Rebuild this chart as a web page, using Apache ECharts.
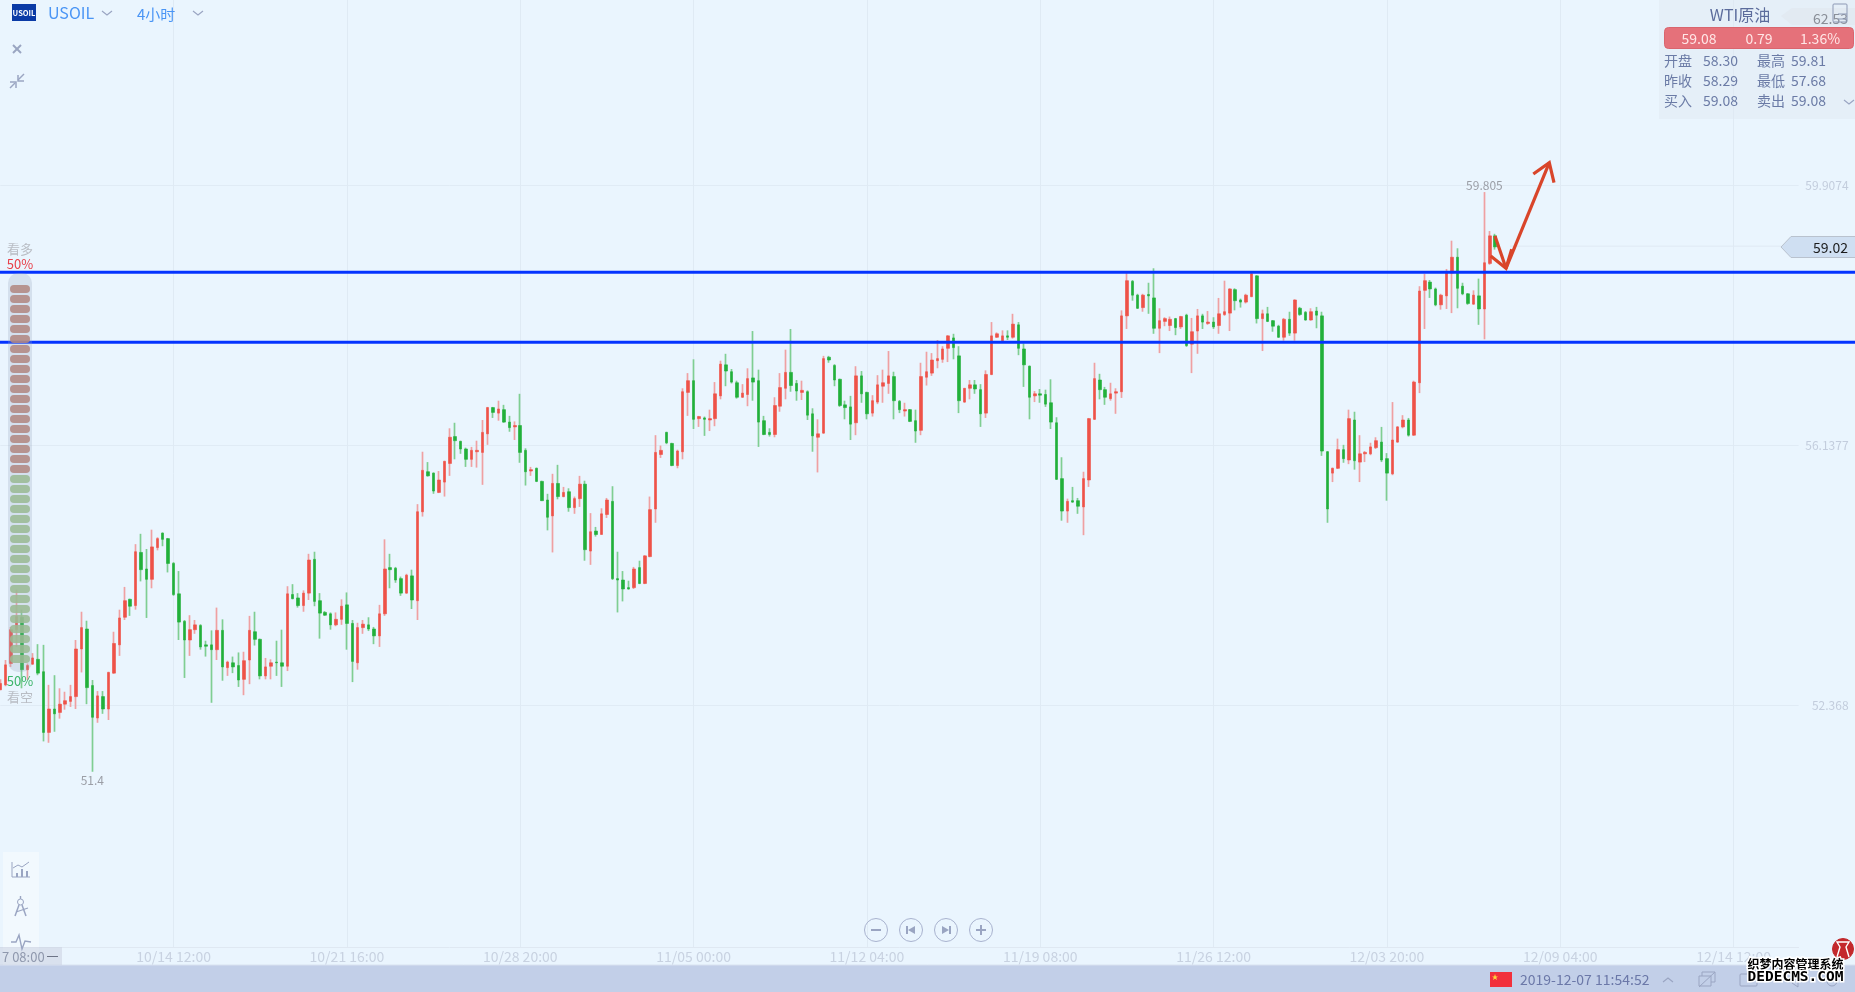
<!DOCTYPE html>
<html>
<head>
<meta charset="utf-8">
<title>USOIL 4小时</title>
<script src="https://cdn.jsdelivr.net/npm/echarts@6/dist/echarts.min.js"></script>
<style>
html, body { margin: 0; padding: 0; background: #eaf5fe; overflow: hidden; }
#main { width: 1855px; height: 992px; }
</style>
</head>
<body>
<div id="main"></div>
<script>
// [open, close, low, high], 4 hour bars
const candles = [
[52.59,52.68,52.58,52.74],[52.66,52.95,52.64,53.02],[52.97,53.46,52.92,53.50],[53.46,53.65,53.21,54.04],[53.64,52.88,52.61,53.75],
[52.88,52.94,52.73,52.97],[52.96,53.05,52.95,53.12],[53.03,52.83,52.80,53.25],[52.85,51.97,51.84,53.24],[51.97,52.31,51.82,52.66],
[52.31,52.24,51.98,52.80],[52.26,52.38,52.17,52.61],[52.38,52.43,52.30,52.56],[52.42,52.49,52.34,52.66],[52.49,53.18,52.31,53.31],
[53.18,53.49,52.84,53.72],[53.47,52.62,52.38,53.59],[52.65,52.19,51.40,52.73],[52.18,52.50,52.11,52.57],[52.49,52.31,52.24,52.57],
[52.31,52.84,52.15,52.85],[52.83,53.26,52.82,53.43],[53.24,53.63,53.08,53.75],[53.64,53.88,53.60,54.08],[53.90,53.80,53.66,53.91],
[53.81,54.59,53.75,54.70],[54.58,54.33,54.16,54.85],[54.34,54.19,53.63,54.63],[54.19,54.66,54.06,54.91],[54.65,54.78,54.61,54.80],
[54.86,54.77,54.67,54.87],[54.78,54.42,54.29,54.79],[54.42,53.97,53.95,54.44],[53.98,53.57,53.31,54.31],[53.58,53.31,52.76,53.60],
[53.31,53.46,53.08,53.67],[53.46,53.53,53.40,53.60],[53.52,53.21,53.17,53.54],[53.24,53.22,53.07,53.30],[53.24,53.17,52.40,53.45],
[53.17,53.45,53.02,53.78],[53.45,52.92,52.72,53.61],[52.91,52.99,52.79,53.01],[52.98,52.92,52.83,53.07],[52.94,52.73,52.63,53.13],
[52.74,53.01,52.51,53.14],[53.02,53.45,52.67,53.66],[53.43,53.32,53.23,53.72],[53.32,52.79,52.74,53.33],[52.79,52.92,52.74,53.05],
[52.93,52.98,52.74,53.03],[52.99,52.98,52.79,53.30],[52.98,52.93,52.63,53.46],[52.93,53.98,52.86,54.09],[53.97,53.91,53.90,54.12],
[53.92,53.81,53.78,53.99],[53.81,53.99,53.72,54.03],[53.99,54.47,53.89,54.56],[54.48,53.87,53.80,54.59],[53.88,53.70,53.33,53.99],
[53.71,53.67,53.66,53.73],[53.69,53.53,53.46,53.71],[53.53,53.61,53.51,53.71],[53.61,53.80,53.53,53.90],[53.82,53.55,53.17,54.00],
[53.55,53.00,52.70,53.60],[52.98,53.49,52.88,53.56],[53.49,53.54,53.40,53.60],[53.53,53.47,53.44,53.64],[53.47,53.37,53.25,53.50],
[53.37,53.69,53.21,53.82],[53.69,54.34,53.66,54.77],[54.36,54.33,54.06,54.56],[54.35,54.18,54.14,54.37],[54.20,53.99,53.95,54.23],
[53.99,54.25,53.98,54.27],[54.24,53.89,53.76,54.33],[53.88,55.17,53.60,55.28],[55.17,55.77,55.10,56.04],[55.75,55.69,55.68,55.89],
[55.73,55.47,55.43,55.74],[55.45,55.63,55.44,55.76],[55.60,55.90,55.39,55.91],[55.87,56.25,55.69,56.38],[56.26,56.20,55.93,56.46],
[56.19,56.08,56.01,56.20],[56.08,55.93,55.82,56.10],[55.93,56.06,55.82,56.11],[56.04,56.06,55.81,56.20],[56.03,56.32,55.56,56.50],
[56.30,56.68,56.14,56.69],[56.68,56.61,56.53,56.69],[56.60,56.66,56.49,56.78],[56.65,56.47,56.46,56.72],[56.47,56.39,56.33,56.56],
[56.40,56.42,56.21,56.48],[56.42,56.03,55.88,56.88],[56.06,55.75,55.55,56.09],[55.76,55.78,55.69,55.82],[55.80,55.61,55.60,55.81],
[55.61,55.33,55.33,55.62],[55.34,55.09,54.90,55.43],[55.11,55.58,54.58,55.72],[55.58,55.39,55.35,55.85],[55.39,55.45,55.38,55.53],
[55.46,55.23,55.17,55.51],[55.23,55.36,55.14,55.39],[55.36,55.57,55.24,55.69],[55.57,54.62,54.46,55.62],[54.60,54.88,54.40,55.15],
[54.89,54.84,54.81,54.95],[54.84,55.14,54.84,55.22],[55.13,55.34,55.08,55.37],[55.32,54.20,54.18,55.54],[54.20,54.18,53.71,54.59],
[54.18,54.05,53.87,54.31],[54.07,54.05,54.04,54.17],[54.07,54.34,54.05,54.37],[54.36,54.13,54.12,54.46],[54.13,54.53,54.12,54.54],
[54.52,55.20,54.51,55.39],[55.21,56.03,55.01,56.28],[56.00,56.06,55.95,56.13],[56.32,56.17,56.15,56.33],[56.16,55.84,55.83,56.17],
[55.84,56.05,55.80,56.07],[56.04,56.91,55.93,56.96],[56.90,57.07,56.56,57.18],[57.07,56.51,56.37,57.38],[56.52,56.55,56.40,56.56],
[56.53,56.51,56.27,56.55],[56.50,56.52,56.34,56.65],[56.52,56.88,56.41,57.05],[56.85,57.31,56.80,57.36],[57.30,57.21,56.99,57.46],
[57.20,57.05,57.03,57.24],[57.04,56.83,56.81,57.07],[56.83,56.89,56.82,57.02],[56.87,57.10,56.70,57.25],[57.11,57.05,56.78,57.79],
[57.07,56.47,56.11,57.23],[56.49,56.29,56.28,56.56],[56.32,56.29,56.26,56.38],[56.29,56.71,56.25,56.83],[56.70,56.97,56.62,57.18],
[56.96,57.19,56.80,57.52],[57.19,57.00,56.91,57.82],[57.03,56.92,56.78,57.08],[56.90,56.93,56.79,57.07],[56.91,56.57,56.50,56.93],
[56.59,56.27,56.04,56.67],[56.25,56.30,55.74,56.51],[56.31,57.39,56.30,57.43],[57.41,57.37,57.33,57.43],[57.29,57.08,56.99,57.31],
[57.09,56.71,56.69,57.10],[56.72,56.68,56.51,56.78],[56.69,56.44,56.21,56.85],[56.46,57.14,56.28,57.28],[57.14,56.88,56.75,57.21],
[56.90,56.59,56.51,56.91],[56.60,56.78,56.55,56.86],[56.76,57.01,56.73,57.15],[56.99,57.04,56.75,57.23],[57.03,57.14,56.88,57.50],
[57.13,56.78,56.51,57.20],[56.77,56.65,56.60,56.79],[56.63,56.65,56.55,56.75],[56.65,56.48,56.47,56.66],[56.49,56.34,56.17,56.65],
[56.35,57.13,56.28,57.33],[57.12,57.20,57.00,57.49],[57.18,57.37,57.14,57.47],[57.36,57.39,57.25,57.66],[57.38,57.53,57.33,57.57],
[57.54,57.72,57.34,57.73],[57.69,57.55,57.38,57.75],[57.43,56.78,56.60,57.57],[56.76,56.96,56.75,56.96],[56.96,57.01,56.80,57.08],
[57.01,56.95,56.88,57.08],[56.94,56.59,56.40,57.02],[56.60,57.16,56.53,57.22],[57.16,57.72,57.15,57.92],[57.70,57.75,57.69,57.77],
[57.65,57.72,57.64,57.80],[57.72,57.70,57.66,57.80],[57.70,57.89,57.68,58.04],[57.88,57.54,57.44,57.92],[57.53,57.30,56.98,57.61],
[57.28,56.83,56.51,57.29],[56.85,56.88,56.76,56.92],[56.88,56.86,56.75,56.95],[56.87,56.73,56.69,56.94],[56.75,56.47,56.37,57.09],
[56.46,55.64,55.63,56.54],[55.65,55.18,55.04,55.96],[55.18,55.32,55.01,55.36],[55.33,55.31,55.30,55.53],[55.33,55.25,55.14,55.37],
[55.24,55.65,54.83,55.75],[55.63,56.52,55.53,56.53],[56.51,57.10,56.50,57.33],[57.08,56.94,56.80,57.17],[56.94,56.83,56.72,56.98],
[56.81,56.88,56.78,57.04],[56.89,56.91,56.59,56.96],[56.91,58.01,56.82,58.09],[58.01,58.52,57.82,58.63],[58.51,58.31,58.23,58.53],
[58.31,58.12,58.11,58.33],[58.13,58.31,58.07,58.33],[58.32,58.30,58.04,58.49],[58.27,57.83,57.75,58.70],[57.83,57.94,57.47,58.12],
[57.93,57.97,57.86,57.99],[57.87,57.96,57.79,58.00],[57.97,57.84,57.73,57.98],[57.85,58.00,57.82,58.01],[58.02,57.58,57.56,58.04],
[57.60,57.78,57.18,57.98],[57.79,58.01,57.46,58.11],[58.01,57.92,57.82,58.04],[57.90,57.92,57.88,58.08],[57.92,57.85,57.82,57.99],
[57.87,58.04,57.75,58.27],[58.03,58.07,58.01,58.52],[58.05,58.40,57.79,58.41],[58.39,58.23,58.09,58.41],[58.24,58.21,58.13,58.26],
[58.21,58.31,58.19,58.33],[58.29,58.62,58.28,58.63],[58.59,57.97,57.90,58.60],[57.97,58.04,57.50,58.10],[58.04,57.93,57.92,58.14],
[57.94,57.86,57.78,57.95],[57.86,57.70,57.69,57.88],[57.70,57.96,57.65,57.98],[57.96,57.76,57.72,58.07],[57.76,58.24,57.65,58.25],
[58.12,58.03,58.01,58.14],[58.06,57.95,57.94,58.08],[57.95,58.07,57.94,58.12],[58.08,58.02,57.83,58.14],[58.01,56.05,55.98,58.07],
[56.04,55.21,55.01,56.05],[55.73,55.80,55.60,55.81],[55.80,56.07,55.79,56.23],[56.07,55.94,55.88,56.14],[55.92,56.52,55.86,56.65],
[56.50,55.91,55.78,56.62],[55.89,56.01,55.60,56.28],[56.01,56.03,55.89,56.05],[56.01,56.11,55.99,56.17],[56.10,56.20,56.08,56.25],
[56.18,55.92,55.89,56.40],[55.94,55.73,55.33,56.02],[55.72,56.21,55.70,56.76],[56.18,56.40,56.17,56.41],[56.40,56.50,56.38,56.57],
[56.50,56.28,56.26,56.53],[56.28,57.05,56.27,57.07],[57.04,58.37,56.89,58.44],[58.38,58.52,57.82,58.62],[58.50,58.40,58.27,58.53],
[58.40,58.17,58.15,58.42],[58.17,58.31,58.10,58.33],[58.30,58.65,58.11,58.69],[58.63,58.86,58.05,59.10],[58.86,58.41,58.12,58.99],
[58.44,58.33,58.31,58.49],[58.33,58.19,58.17,58.34],[58.18,58.31,58.17,58.38],[58.30,58.11,57.88,58.55],[58.11,58.78,57.67,59.805],
[58.77,59.17,58.75,59.24],[59.17,59.01,58.97,59.20]
]
const tickLabels = ['10/14 12:00', '10/21 16:00', '10/28 20:00', '11/05 00:00', '11/12 04:00', '11/19 08:00', '11/26 12:00', '12/03 20:00', '12/09 04:00', '12/14 12:00']
const priceTicks = [52.368, 56.1377, 59.9074]
const levelLines = [58.642, 57.627]
const lastPrice = 59.02
const minPoint = [17, 51.4]
const maxPoint = [274, 59.805]

const barSlots = 333
const barsPerTick = 32
const yMin = 48.8591
const yMax = 62.5897

const categories = new Array(barSlots).fill('')
tickLabels.forEach((label, i) => { categories[(i + 1) * barsPerTick] = label })
const bodies = candles.map(([o, c]) => [o, c, Math.min(o, c), Math.max(o, c)])

const cjk = '"Noto Sans CJK SC", sans-serif'
const red = '#ee5248'
const green = '#22b03a'
const redWick = '#efa0a2'
const greenWick = '#7fce92'
const iconColor = '#9aa5c2'
const panelText = '#6b7ba6'

const showTick = (i) => i > 0 && i % barsPerTick === 0

function txt(x, y, text, size, fill, align, extra) {
	return {
		type: 'text', x: x, y: y, z: 100, silent: true,
		style: Object.assign({ text: text, font: size + 'px ' + cjk, fill: fill, align: align || 'left', verticalAlign: 'middle' }, extra || {})
	}
}

function poly(points, stroke, lineWidth, z) {
	return {
		type: 'polyline', z: z || 100, silent: true,
		shape: { points: points },
		style: { stroke: stroke, lineWidth: lineWidth || 1.5, fill: 'none' }
	}
}

function box(x, y, w, h, fill, r, extra, z) {
	return {
		type: 'rect', z: z || 90, silent: true,
		shape: { x: x, y: y, width: w, height: h, r: r || 0 },
		style: Object.assign({ fill: fill }, extra || {})
	}
}

function ring(cx, cy, r, stroke, fill) {
	return {
		type: 'circle', z: 100, silent: true,
		shape: { cx: cx, cy: cy, r: r },
		style: { stroke: stroke, fill: fill || 'none', lineWidth: 1 }
	}
}

function chevron(x, y, up) {
	const d = up ? -4 : 4
	return poly([[x, y], [x + 5, y + d], [x + 10, y]], iconColor, 1.2)
}

const ui = []

// header, top left
ui.push(box(12, 4, 24, 17, '#0a3aa6', 0))
ui.push(txt(24, 13, 'USOIL', 7.5, '#fff', 'center', { font: 'bold 7.5px ' + cjk }))
ui.push(txt(48, 13, 'USOIL', 16, '#4a95f5'))
ui.push(chevron(102, 11))
ui.push(txt(137, 14, '4小时', 15, '#4a95f5'))
ui.push(chevron(193, 11))
ui.push(poly([[13, 45], [21, 53]], iconColor, 2), poly([[21, 45], [13, 53]], iconColor, 2))
ui.push(poly([[24, 74], [18, 80]], iconColor, 1.5), poly([[18, 75], [18, 81], [24, 81]], iconColor, 1.5))
ui.push(poly([[10, 88], [15, 83]], iconColor, 1.5), poly([[10, 82], [16, 82], [16, 88]], iconColor, 1.5))

// quote panel, top right
ui.push(box(1659, 0, 196, 119, 'rgba(225,232,242,0.45)', 0))
ui.push({
	type: 'polygon', z: 91, silent: true,
	shape: { points: [[1781, 16], [1792, 8], [1855, 8], [1855, 25], [1792, 25]] },
	style: { fill: '#e2eaf2' }
})
ui.push(txt(1848, 19, '62.53', 14, '#8a8f98', 'right'))
ui.push(box(1833, 4, 14, 18, 'none', 1, { stroke: '#8d99b5', lineWidth: 1 }, 101))
ui.push(poly([[1838, 14], [1847, 14]], '#8d99b5', 1), poly([[1838, 19], [1847, 19]], '#8d99b5', 1))
ui.push(txt(1740, 15, 'WTI原油', 16, '#5c6c9c', 'center'))
ui.push(box(1664.5, 27.5, 189, 21, '#e5717a', 4, { stroke: '#d9656e', lineWidth: 1 }))
ui.push(txt(1699, 39, '59.08', 14, '#ffe6e6', 'center'))
ui.push(txt(1759, 39, '0.79', 14, '#ffe6e6', 'center'))
ui.push(txt(1820, 39, '1.36%', 14, '#ffe6e6', 'center'))
const quoteRows = [['开盘', '58.30', '最高', '59.81'], ['昨收', '58.29', '最低', '57.68'], ['买入', '59.08', '卖出', '59.08']]
quoteRows.forEach((row, i) => {
	const y = 61 + i * 20
	ui.push(txt(1664, y, row[0], 14, panelText))
	ui.push(txt(1703, y, row[1], 14, panelText))
	ui.push(txt(1757, y, row[2], 14, panelText))
	ui.push(txt(1791, y, row[3], 14, panelText))
})
ui.push(chevron(1844, 100))

// last price tag
ui.push({
	type: 'polygon', z: 91, silent: true,
	shape: { points: [[1781, 247], [1791, 236.5], [1856, 236.5], [1856, 257.5], [1791, 257.5]] },
	style: { fill: '#cfdff2', stroke: '#b9c2ce', lineWidth: 1 }
})
ui.push(txt(1848, 248, String(lastPrice), 14, '#1c1c1c', 'right'))

// sentiment gauge, left
ui.push(txt(20, 249, '看多', 13, '#b9bdc4', 'center'))
ui.push(txt(20, 264, '50%', 13, '#e8404a', 'center'))
ui.push(box(8, 273, 24, 399, 'rgba(150,165,190,0.26)', 10, null, 95))
for (let i = 0; i < 38; i++) {
	ui.push(box(10, 285 + i * 10, 20, 8, i < 19 ? 'rgba(178,136,130,0.88)' : 'rgba(155,186,148,0.88)', 4, null, 96))
}
ui.push(txt(20, 681, '50%', 13, '#3db56a', 'center'))
ui.push(txt(20, 697, '看空', 13, '#b9bdc4', 'center'))

// hand drawn arrows
const arrowColor = '#d9452a'
ui.push(poly([[1495, 236], [1506, 268.3]], arrowColor, 3.2, 110))
ui.push(poly([[1490.7, 256], [1506, 268.3], [1511.7, 249.3]], arrowColor, 3.2, 110))
ui.push(poly([[1506, 268.3], [1549.3, 162.7]], arrowColor, 3.2, 110))
ui.push(poly([[1533.3, 174], [1549.3, 162.7], [1554, 182.7]], arrowColor, 3.2, 110))

// tool strip, bottom left
ui.push(box(3, 852, 36, 113, 'rgba(255,255,255,0.38)', 0))
ui.push(poly([[12, 862], [12, 877], [30, 877]], iconColor, 1))
ui.push(poly([[13, 868], [18, 865], [22, 867], [29, 862]], iconColor, 1))
ui.push(box(16, 873, 2, 4, iconColor, 0, null, 100), box(21, 869, 2, 8, iconColor, 0, null, 100), box(26, 871, 2, 6, iconColor, 0, null, 100))
ui.push(poly([[20.5, 896], [20.5, 899]], iconColor, 1.4))
ui.push(ring(20.5, 902, 3, iconColor))
ui.push(poly([[19, 905], [15, 916]], iconColor, 1.5), poly([[22, 905], [26, 916]], iconColor, 1.5), poly([[16, 912], [28, 908]], iconColor, 1.3))
ui.push(poly([[11, 942], [16, 942], [19, 935], [22, 949], [25, 941], [31, 942]], iconColor, 1.4))
ui.push(box(0, 947, 62, 18, 'rgba(205,212,226,0.6)', 0, null, 92))
ui.push(txt(2, 957, '7 08:00', 13, '#8f98ad'))
ui.push(poly([[47, 956.5], [58, 956.5]], '#6d7486', 1))

// zoom and pan buttons
const navX = [876, 911, 946, 981]
navX.forEach((x) => ui.push(ring(x, 930, 11.5, '#a9b3cf')))
ui.push(poly([[871, 930], [881, 930]], iconColor, 2))
ui.push(poly([[976, 930], [986, 930]], iconColor, 2), poly([[981, 925], [981, 935]], iconColor, 2))
ui.push(poly([[907, 926], [907, 934]], iconColor, 2))
ui.push({ type: 'polygon', z: 100, silent: true, shape: { points: [[915, 926], [915, 934], [908, 930]] }, style: { fill: iconColor } })
ui.push(poly([[950, 926], [950, 934]], iconColor, 2))
ui.push({ type: 'polygon', z: 100, silent: true, shape: { points: [[942, 926], [942, 934], [949, 930]] }, style: { fill: iconColor } })

// status bar
ui.push(box(0, 965, 1855, 27, '#c2cfe8', 0, null, 80))
ui.push(poly([[0, 965], [1855, 965]], '#d9e2f0', 1, 81))
ui.push(box(1490, 972, 22, 15, '#f2303c', 0, null, 100))
ui.push({ type: 'polygon', z: 101, silent: true, shape: { points: [[1495, 974], [1497, 980], [1492, 976.5], [1498, 976.5], [1493, 980]] }, style: { fill: '#ffd83a' } })
ui.push(txt(1520, 980, '2019-12-07 11:54:52', 14, '#6b78a8'))
ui.push(chevron(1663, 982, true))
ui.push(box(1699, 976, 12, 10, 'none', 0, { stroke: iconColor, lineWidth: 1 }, 100))
ui.push(poly([[1702, 976], [1702, 972], [1715, 972], [1715, 982], [1711, 982]], iconColor, 1), poly([[1699, 987], [1715, 972]], iconColor, 1))
ui.push(box(1740, 974, 17, 12, 'none', 1, { stroke: iconColor, lineWidth: 1 }, 100))
ui.push(poly([[1792, 976], [1798, 973], [1798, 987], [1792, 983], [1792, 976]], iconColor, 1))
ui.push(ring(1832, 981, 5, iconColor))

// site watermark
ui.push(ring(1843, 949, 10.5, '#c02a2c', '#c4282c'))
ui.push(poly([[1837, 957], [1840, 947], [1837, 942], [1849, 942], [1846, 947], [1849, 957]], '#fff', 1.4, 101))
ui.push(txt(1795.5, 964, '织梦内容管理系统', 12, '#000', 'center', { stroke: '#fff', lineWidth: 3, font: 'bold 12px ' + cjk }))
ui.push(txt(1795.5, 977, 'DEDECMS.COM', 14, '#000', 'center', { stroke: '#fff', lineWidth: 3, font: 'bold 14.5px "DejaVu Sans Mono"' }))

const myChart = echarts.init(document.getElementById('main'), null, { renderer: 'canvas' })
const option = {
	animation: false,
	backgroundColor: '#eaf5fe',
	tooltip: { show: false },
	grid: [
		{ left: 0.25, top: 0, width: 1798.33, bottom: 45 },
		{ left: 0, right: 0, top: 0, bottom: 45 }
	],
	xAxis: [
		{
			type: 'category',
			data: categories,
			boundaryGap: false,
			axisLine: { lineStyle: { color: '#dfe8f2' } },
			axisTick: { show: false },
			axisLabel: { interval: showTick, color: '#c8d2e1', fontSize: 14, fontFamily: cjk, margin: 3 },
			splitLine: { show: true, interval: showTick, lineStyle: { color: '#dfeaf4', width: 1 } }
		},
		{ type: 'value', gridIndex: 1, min: 0, max: 1855, show: false }
	],
	yAxis: [
		{
			type: 'value',
			position: 'right',
			min: yMin,
			max: yMax,
			axisLine: { show: false },
			axisTick: { show: false, customValues: priceTicks },
			axisLabel: { customValues: priceTicks, color: '#c3cddd', fontSize: 12, fontFamily: cjk, align: 'right', margin: 50, formatter: (v) => String(v) },
			splitLine: { show: true, lineStyle: { color: '#e0ebf5', width: 1 } }
		},
		{ type: 'value', gridIndex: 1, min: yMin, max: yMax, show: false }
	],
	series: [
		{
			name: 'wick',
			type: 'candlestick',
			data: candles,
			barWidth: 1,
			z: 3,
			itemStyle: { color: redWick, color0: greenWick, borderColor: redWick, borderColor0: greenWick, borderWidth: 1.7 },
			markPoint: {
				symbol: 'circle',
				symbolSize: 0,
				silent: true,
				label: { color: '#9b9ea6', fontSize: 12, fontFamily: cjk },
				data: [
					{ coord: minPoint, value: minPoint[1], label: { position: 'bottom', distance: 3 } },
					{ coord: maxPoint, value: maxPoint[1], label: { position: 'top', distance: 1 } }
				]
			}
		},
		{
			name: 'body',
			type: 'candlestick',
			data: bodies,
			barWidth: 3,
			z: 4,
			itemStyle: { color: red, color0: green, borderColor: red, borderColor0: green, borderWidth: 0.6 }
		},
		{
			name: 'last',
			type: 'line',
			xAxisIndex: 1,
			yAxisIndex: 1,
			symbol: 'none',
			silent: true,
			z: 2,
			lineStyle: { color: '#dfe9f3', width: 1 },
			data: [[1510, lastPrice], [1781, lastPrice]]
		}
	].concat(levelLines.map((price, i) => ({
		name: 'level' + i,
		type: 'line',
		xAxisIndex: 1,
		yAxisIndex: 1,
		symbol: 'none',
		silent: true,
		z: 6,
		lineStyle: { color: '#0433ff', width: 3 },
		data: [[0, price], [1855, price]]
	}))),
	graphic: { elements: ui }
}
myChart.setOption(option)
</script>
</body>
</html>
